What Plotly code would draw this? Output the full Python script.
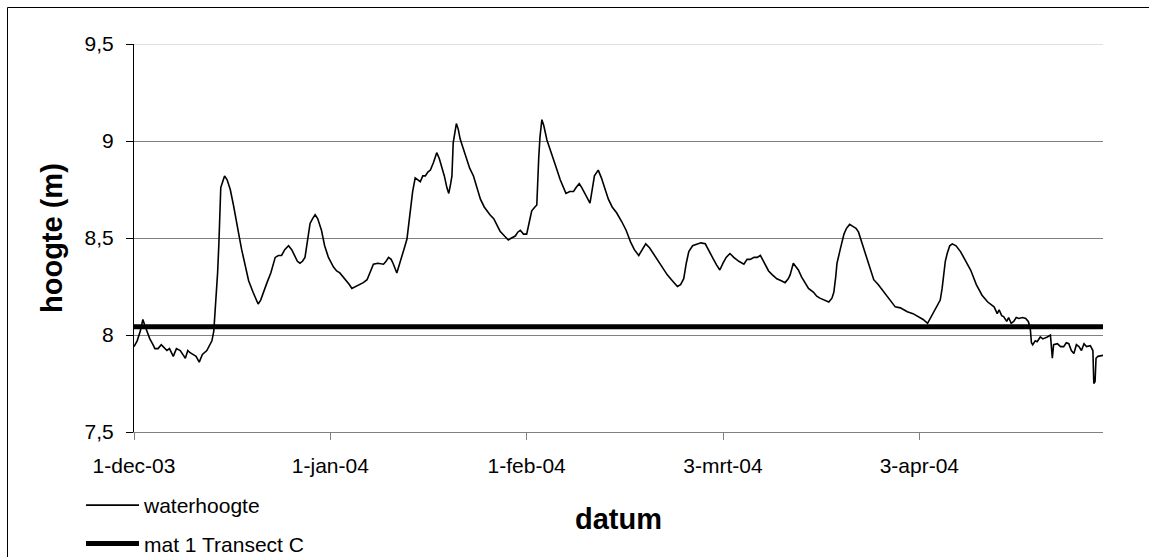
import pandas as pd
import plotly.graph_objects as go

# ---- data ----
start_date = "2003-12-01"
# days since 1-dec-03
days = [0.0, 0.5, 1.0, 1.4, 1.7, 2.0, 2.5, 3.0, 3.3, 3.8, 4.3, 4.6, 5.2, 5.6, 6.2, 6.7, 7.3, 7.7, 8.1, 8.5,
        8.8, 9.3, 9.8, 10.3, 10.8, 11.5, 12.0, 12.3, 12.6, 12.8, 13.0, 13.2, 13.4, 13.5, 13.7, 14.0, 14.3, 14.7,
        15.2, 15.7, 16.2, 16.6, 17.0, 17.5, 18.1, 18.8, 19.2, 19.6, 20.0, 20.5, 21.0, 21.6, 22.0, 22.3, 22.8,
        23.3, 23.8, 24.4, 24.9, 25.4, 25.8, 26.2, 26.6, 27.0, 27.4, 27.8, 28.2, 28.6, 29.0, 29.6, 30.1, 30.7,
        31.5, 32.0, 32.5, 33.0, 33.6, 34.0, 34.4, 35.0, 35.7, 36.2, 36.8, 37.3, 37.8, 38.5, 39.4, 39.8, 40.2,
        40.6, 40.9, 41.5, 41.9, 42.3, 42.7, 43.1, 43.4, 43.7, 44.0, 44.4, 44.8, 45.2, 45.6, 46.0, 46.4, 46.8,
        47.3, 47.8, 48.2, 48.6, 49.0, 49.4, 49.7, 50.0, 50.2, 50.4, 50.7, 50.9, 51.2, 51.5, 52.0, 52.6, 53.0,
        53.6, 54.2, 54.7, 55.3, 56.2, 56.8, 57.3, 57.8, 58.5, 59.1, 59.6, 60.2, 60.6, 61.0, 61.5, 62.0, 62.4,
        62.8, 63.3, 63.6, 63.9, 64.1, 64.4, 64.7, 65.2, 65.7, 66.2, 66.7, 67.3, 67.8, 68.2, 68.8, 69.4, 69.8,
        70.3, 70.7, 71.2, 71.6, 72.0, 72.4, 72.7, 73.3, 73.8, 74.4, 74.9, 75.5, 76.2, 77.0, 77.7, 78.4, 79.0,
        79.7, 80.2, 80.8, 81.4, 82.0, 82.6, 83.4, 84.2, 85.0, 85.8, 86.3, 86.8, 87.2, 87.6, 88.2, 88.9, 89.5,
        90.2, 90.8, 91.5, 92.0, 92.5, 93.0, 93.5, 94.1, 94.7, 95.5, 96.3, 96.8, 97.3, 97.9, 98.4, 98.9, 99.5,
        100.2, 100.8, 101.5, 102.2, 102.8, 103.3, 103.6, 104.1, 104.5, 104.9, 105.4, 106.0, 106.5, 107.3,
        107.8, 108.3, 108.9, 109.7, 110.2, 110.5, 110.8, 111.0, 111.5, 112.1, 112.5, 113.0, 113.5, 114.0,
        114.4, 115.0, 115.5, 116.2, 116.8, 117.5, 118.4, 119.2, 120.2, 121.0, 122.1, 123.0, 123.9, 124.6,
        125.3, 126.3, 127.3, 127.6, 127.8, 128.1, 128.4, 128.8, 129.2, 129.8, 130.5, 131.3, 132.1, 133.0,
        133.9, 134.8, 135.8, 136.3, 136.6, 137.0, 137.3, 137.8, 138.1, 138.5, 138.9, 139.3, 139.7, 140.3,
        140.8, 141.2, 141.5, 141.7, 141.9, 142.3, 142.6, 143.1, 143.5, 144.2, 144.7, 145.0, 145.2, 145.8,
        146.3, 146.8, 147.2, 147.6, 148.0, 148.4, 148.8, 149.2, 149.6, 150.0, 150.4, 151.0, 151.4, 151.55,
        151.75, 151.9, 152.2, 153.0]
waterhoogte = [7.94, 7.97, 8.02, 8.08, 8.05, 8.02, 7.98, 7.95, 7.93, 7.93, 7.95, 7.94, 7.92, 7.93, 7.89, 7.93,
               7.92, 7.90, 7.88, 7.92, 7.91, 7.90, 7.89, 7.86, 7.90, 7.92, 7.95, 7.97, 8.02, 8.11, 8.20, 8.32,
               8.47, 8.56, 8.76, 8.79, 8.82, 8.80, 8.75, 8.67, 8.59, 8.51, 8.44, 8.36, 8.28, 8.22, 8.19, 8.16,
               8.18, 8.22, 8.27, 8.32, 8.36, 8.40, 8.41, 8.41, 8.44, 8.46, 8.44, 8.41, 8.38, 8.37, 8.38, 8.40,
               8.48, 8.575, 8.60, 8.62, 8.60, 8.54, 8.46, 8.40, 8.35, 8.33, 8.32, 8.30, 8.28, 8.26, 8.24, 8.25,
               8.26, 8.27, 8.285, 8.33, 8.365, 8.37, 8.365, 8.38, 8.40, 8.39, 8.37, 8.32, 8.36, 8.40, 8.45,
               8.495, 8.57, 8.65, 8.74, 8.81, 8.80, 8.79, 8.82, 8.82, 8.84, 8.85, 8.89, 8.94, 8.91, 8.87, 8.82,
               8.76, 8.73, 8.78, 8.82, 8.99, 9.06, 9.09, 9.06, 9.01, 8.96, 8.90, 8.86, 8.82, 8.76, 8.70, 8.66,
               8.62, 8.60, 8.57, 8.535, 8.51, 8.49, 8.50, 8.51, 8.53, 8.54, 8.52, 8.52, 8.58, 8.64, 8.66, 8.67,
               8.91, 9.02, 9.11, 9.08, 9.005, 8.96, 8.91, 8.86, 8.80, 8.76, 8.73, 8.74, 8.74, 8.76, 8.78, 8.76,
               8.73, 8.70, 8.68, 8.76, 8.82, 8.85, 8.81, 8.75, 8.70, 8.66, 8.63, 8.585, 8.54, 8.48, 8.44, 8.41,
               8.44, 8.47, 8.45, 8.42, 8.39, 8.35, 8.31, 8.28, 8.25, 8.26, 8.29, 8.37, 8.43, 8.46, 8.47, 8.475,
               8.47, 8.43, 8.39, 8.36, 8.335, 8.37, 8.40, 8.42, 8.40, 8.38, 8.365, 8.39, 8.39, 8.40, 8.40, 8.41,
               8.37, 8.33, 8.31, 8.29, 8.28, 8.27, 8.29, 8.31, 8.37, 8.35, 8.335, 8.30, 8.27, 8.24, 8.22, 8.20,
               8.19, 8.18, 8.17, 8.19, 8.22, 8.30, 8.37, 8.44, 8.52, 8.55, 8.57, 8.56, 8.55, 8.53, 8.47, 8.41,
               8.34, 8.285, 8.26, 8.22, 8.19, 8.145, 8.14, 8.12, 8.11, 8.095, 8.08, 8.06, 8.12, 8.18, 8.24, 8.30,
               8.38, 8.42, 8.46, 8.47, 8.46, 8.43, 8.38, 8.335, 8.26, 8.205, 8.17, 8.145, 8.11, 8.13, 8.10, 8.095,
               8.07, 8.09, 8.06, 8.07, 8.09, 8.085, 8.09, 8.085, 8.07, 8.04, 7.96, 7.95, 7.97, 7.965, 7.99, 7.98,
               7.99, 8.00, 7.88, 7.95, 7.955, 7.94, 7.94, 7.96, 7.955, 7.92, 7.905, 7.95, 7.94, 7.92, 7.955, 7.94,
               7.945, 7.92, 7.75, 7.76, 7.88, 7.89, 7.895]

mat_days = [0.0, 153.0]
mat_level = [8.042, 8.042]

tick_dates = ["2003-12-01", "2004-01-01", "2004-02-01", "2004-03-03", "2004-04-03"]
tick_labels = ["1-dec-03", "1-jan-04", "1-feb-04", "3-mrt-04", "3-apr-04"]
y_ticks = [7.5, 8.0, 8.5, 9.0, 9.5]

series_names = ["waterhoogte", "mat 1 Transect C"]
x_title = "datum"
y_title = "hoogte (m)"

t0 = pd.Timestamp(start_date)
x_water = [t0 + pd.Timedelta(days=d) for d in days]
x_mat = [t0 + pd.Timedelta(days=d) for d in mat_days]

FONT = "Liberation Sans, Arial, sans-serif"
TICK_SIZE = 21
TITLE_SIZE = 29

fig = go.Figure()
fig.add_trace(go.Scatter(x=x_water, y=waterhoogte, mode="lines", name=series_names[0],
                         line=dict(color="black", width=1.6), legendgroup="a"))
fig.add_trace(go.Scatter(x=x_mat, y=mat_level, mode="lines", name=series_names[1],
                         line=dict(color="black", width=5), legendgroup="b"))

W, H = 1149, 557
L, R, T, B = 134, 46, 44, 125
pw, ph = W - L - R, H - T - B

def px(x):
    return (x - L) / pw

def py(y):
    return (H - B - y) / ph

fig.update_layout(
    width=W, height=H,
    margin=dict(l=L, r=R, t=T, b=B, autoexpand=False),
    paper_bgcolor="white", plot_bgcolor="white",
    separators=",.",
    font=dict(family=FONT, size=TICK_SIZE, color="black"),
    showlegend=True,
    legend=dict(x=px(81), y=py(485), xanchor="left", yanchor="top",
                font=dict(family=FONT, size=TICK_SIZE, color="black"),
                bgcolor="rgba(0,0,0,0)", tracegroupgap=8, itemwidth=53),
    xaxis=dict(type="date", range=[t0, t0 + pd.Timedelta(days=153)],
               tickvals=tick_dates, ticktext=tick_labels,
               showgrid=False, zeroline=False,
               showline=True, linecolor="#808080", linewidth=1,
               ticks="outside", ticklen=7, tickcolor="#808080", tickwidth=1,
               ticklabelstandoff=8,
               tickfont=dict(family=FONT, size=TICK_SIZE, color="black")),
    yaxis=dict(range=[7.5, 9.5], tickvals=y_ticks, tickformat=".1~f",
               showgrid=True, gridcolor="#808080", gridwidth=1, zeroline=False,
               showline=True, linecolor="black", linewidth=1,
               ticks="outside", ticklen=7, tickcolor="black", tickwidth=1,
               ticklabelstandoff=8,
               tickfont=dict(family=FONT, size=TICK_SIZE, color="black")),
    shapes=[
        dict(type="line", xref="paper", yref="y", x0=0, x1=1, y0=9.5, y1=9.5,
             line=dict(color="#e0e0e0", width=2), layer="above"),
        dict(type="line", xref="paper", yref="paper", x0=px(7.5), x1=px(W), y0=py(7.5), y1=py(7.5),
             line=dict(color="black", width=1)),
        dict(type="line", xref="paper", yref="paper", x0=px(7.5), x1=px(7.5), y0=py(H), y1=py(7.5),
             line=dict(color="black", width=1)),
    ],
    annotations=[
        dict(text="<b>" + x_title + "</b>", xref="paper", yref="paper", x=0.5, y=py(519),
             xanchor="center", yanchor="middle", showarrow=False,
             font=dict(family=FONT, size=TITLE_SIZE, color="black")),
        dict(text="<b>" + y_title + "</b>", xref="paper", yref="paper", x=px(52), y=0.5,
             xanchor="center", yanchor="middle", showarrow=False, textangle=-90,
             font=dict(family=FONT, size=TITLE_SIZE, color="black")),
    ],
)

# remove the page's default body margin so the figure fills the window exactly
fig.write_html("out.html", config={"displayModeBar": False},
               post_script="document.body.style.margin='0';document.body.style.overflow='hidden';")
